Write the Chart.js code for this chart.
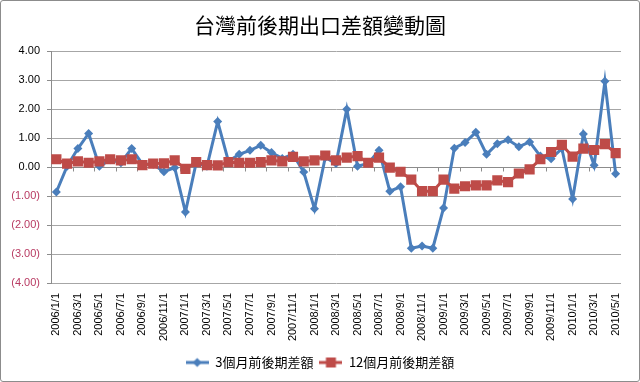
<!DOCTYPE html>
<html>
<head>
<meta charset="utf-8">
<script src="https://cdn.jsdelivr.net/npm/chart.js@4/dist/chart.umd.min.js"></script>
<style>
  html, body { margin: 0; padding: 0; background: #fff; }
  #wrap { width: 638px; height: 380px; border: 1px solid #8c8c8c; border-radius: 3px; position: relative; }
  canvas { display: block; }
</style>
</head>
<body>
<div id="wrap"><canvas id="c" width="638" height="380"></canvas></div>
<script>
const chartTitle = '台灣前後期出口差額變動圖';
const seriesNames = ['3個月前後期差額', '12個月前後期差額'];
const years = [2006, 2007, 2008, 2009, 2010];
const categories = [];
years.forEach(y => { for (let m = 1; m <= 12; m++) { if (y === 2010 && m > 5) break; categories.push(y + '/' + m + '/1'); } });

const threeMonth = [
  -0.86, 0.03, 0.64, 1.16, 0.03, 0.25, 0.15, 0.64, 0.10, 0.10, -0.16, -0.02,
  -1.55, 0.15, 0.03, 1.57, 0.20, 0.44, 0.58, 0.75, 0.50, 0.30, 0.44, -0.17,
  -1.44, 0.33, 0.12, 2.00, 0.03, 0.13, 0.58, -0.83, -0.68, -2.80, -2.72, -2.80,
  -1.41, 0.65, 0.85, 1.20, 0.44, 0.81, 0.94, 0.70, 0.87, 0.38, 0.29, 0.64,
  -1.10, 1.14, 0.06, 2.96, -0.23
];
const twelveMonth = [
  0.27, 0.12, 0.20, 0.15, 0.20, 0.27, 0.23, 0.27, 0.07, 0.12, 0.13, 0.23,
  -0.06, 0.17, 0.07, 0.06, 0.17, 0.15, 0.15, 0.17, 0.23, 0.20, 0.35, 0.20,
  0.23, 0.40, 0.23, 0.33, 0.38, 0.15, 0.33, -0.02, -0.16, -0.43, -0.83, -0.83,
  -0.43, -0.74, -0.66, -0.63, -0.63, -0.46, -0.52, -0.22, -0.08, 0.27, 0.52, 0.77,
  0.36, 0.64, 0.59, 0.79, 0.48
];
const yMin = -4, yMax = 4, yStep = 1;

const BLUE = '#4A7EBB';
const RED = '#BE4B48';
const NEG = '#B83A62';

function legendIcon(color, style) {
  const c = document.createElement('canvas');
  c.width = 23; c.height = 12;
  const g = c.getContext('2d');
  g.strokeStyle = color; g.lineWidth = 3;
  g.beginPath(); g.moveTo(0, 6); g.lineTo(23, 6); g.stroke();
  g.fillStyle = color;
  g.beginPath();
  if (style === 'diamond') { g.moveTo(11.5, 1.5); g.lineTo(16, 6); g.lineTo(11.5, 10.5); g.lineTo(7, 6); g.closePath(); }
  else { g.rect(6.5, 1, 10, 10); }
  g.fill();
  return c;
}
const icons = [legendIcon(BLUE, 'diamond'), legendIcon(RED, 'square')];

const zeroAxis = {
  id: 'zeroAxis',
  beforeDatasetsDraw(chart) {
    const x = chart.scales.x, y = chart.scales.y, ctx = chart.ctx;
    const y0 = Math.round(y.getPixelForValue(0)) + 0.5;
    const half = (x.getPixelForValue(1) - x.getPixelForValue(0)) / 2;
    ctx.save();
    ctx.strokeStyle = '#8c8c8c'; ctx.lineWidth = 1;
    ctx.beginPath(); ctx.moveTo(chart.chartArea.left, y0); ctx.lineTo(chart.chartArea.right, y0); ctx.stroke();
    ctx.beginPath();
    for (let i = 0; i <= categories.length; i += 2) {
      const px = Math.round(x.getPixelForValue(i) - half) + 0.5;
      ctx.moveTo(px, y0); ctx.lineTo(px, y0 + 4);
    }
    ctx.stroke();
    ctx.restore();
  }
};

new Chart(document.getElementById('c'), {
  type: 'line',
  data: {
    labels: categories,
    datasets: [
      { label: seriesNames[0], data: threeMonth, borderColor: BLUE, backgroundColor: BLUE, borderWidth: 3,
        pointStyle: 'rectRot', pointRadius: 4.5, pointBorderWidth: 0, order: 2, tension: 0 },
      { label: seriesNames[1], data: twelveMonth, borderColor: RED, backgroundColor: RED, borderWidth: 3,
        pointStyle: 'rect', pointRadius: 7.2, pointBorderWidth: 0, order: 1, tension: 0 }
    ]
  },
  options: {
    responsive: false,
    animation: false,
    layout: { padding: { left: 0, right: 0, top: 0, bottom: 2 } },
    plugins: {
      title: { display: true, text: chartTitle, color: '#000',
        font: { family: '"Noto Sans CJK TC", sans-serif', size: 21, weight: 'normal' },
        padding: { top: 11, bottom: 14 } },
      legend: { position: 'bottom',
        labels: { usePointStyle: true, pointStyleWidth: 23, padding: 6, color: '#000',
          font: { family: '"Noto Sans CJK TC", sans-serif', size: 13 },
          generateLabels(chart) {
            return chart.data.datasets.map((ds, i) => ({ text: ds.label, pointStyle: icons[i], fillStyle: ds.borderColor,
              strokeStyle: ds.borderColor, lineWidth: 0, hidden: false, datasetIndex: i, fontColor: '#000' }));
          } } },
      tooltip: { enabled: false }
    },
    scales: {
      x: {
        offset: true,
        grid: { display: false, drawTicks: false },
        border: { display: false },
        afterFit(s) { s.height = 67; },
        ticks: { autoSkip: false, maxRotation: 90, minRotation: 90, padding: 10, color: '#000',
          font: { family: '"Liberation Sans", Arial, sans-serif', size: 11 },
          callback(v, i) { return i % 2 === 0 ? categories[i] : ''; } }
      },
      y: {
        min: yMin, max: yMax,
        afterFit(s) { s.width = 50; },
        grid: { color: '#a6a6a6', tickLength: 4, tickColor: '#8c8c8c' },
        border: { display: true, color: '#8c8c8c' },
        ticks: { stepSize: yStep, padding: 7,
          font: { family: '"Liberation Sans", Arial, sans-serif', size: 11 },
          color(ctx) { return ctx.tick && ctx.tick.value < 0 ? NEG : '#000'; },
          callback(v) { return v < 0 ? '(' + Math.abs(v).toFixed(2) + ')' : v.toFixed(2); } }
      },
      yRightSpace: {
        position: 'right', display: true,
        grid: { display: false, drawTicks: false },
        border: { display: false },
        ticks: { display: false },
        afterFit(s) { s.width = 16; }
      }
    }
  },
  plugins: [zeroAxis]
});
</script>
</body>
</html>
